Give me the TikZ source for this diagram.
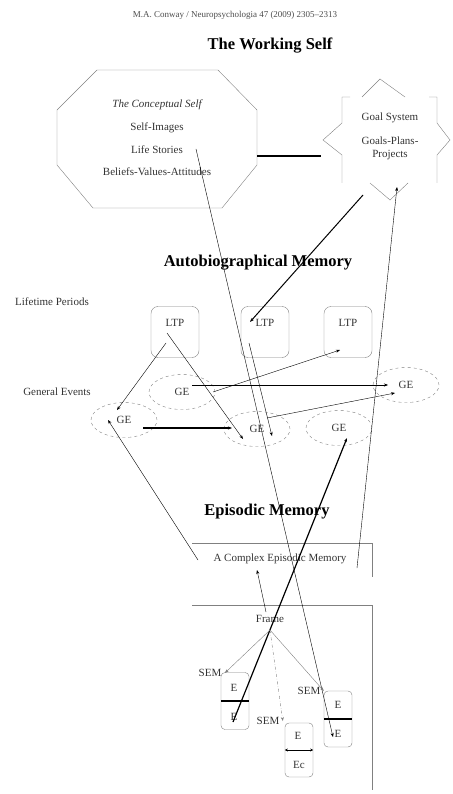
\documentclass[tikz,border=0pt]{standalone}
\usepackage{fontspec}
\setmainfont{Liberation Serif}
\usetikzlibrary{shapes.geometric,arrows.meta}

\tikzset{
  small/.style={font=\fontsize{11}{13}\selectfont, text=black!80},
  heading/.style={font=\fontsize{16.5}{18}\selectfont\bfseries},
  ltpbox/.style={draw=gray, rounded corners=7pt, minimum width=48pt, minimum height=51pt},
  gebox/.style={draw=gray, dashed, ellipse, minimum width=66pt, minimum height=35pt, inner sep=0pt},
  ebox/.style={draw=gray, rounded corners=4pt, minimum width=28pt, inner sep=0pt},
  link/.style={-{Stealth[length=4pt,width=3pt]}},
  framelink/.style={gray, -{Stealth[length=4pt,width=3pt]}},
}

\begin{document}
\begin{tikzpicture}[x=1pt,y=-1pt]
\useasboundingbox (0,0) rectangle (452,794);

\node[font=\fontsize{9}{10}\selectfont, text=black!70] (cite) at (235,15) {M.A. Conway / Neuropsychologia 47 (2009) 2305--2313};
\node[heading] (wself) at (270,46) {The Working Self};

% conceptual self
\draw[gray] (97,70) -- (218,70) -- (257,110) -- (257,165) -- (222,208) -- (93,208) -- (57,165) -- (57,110) -- cycle;
\node[small, font=\fontsize{11}{13}\selectfont\itshape] (cself) at (157,105) {The Conceptual Self};
\node[small] (simg) at (157,128) {Self-Images};
\node[small] (lstor) at (157,150) {Life Stories};
\node[small] (bva) at (157,172) {Beliefs-Values-Attitudes};

% goal system
\draw[gray] (350,97) -- (342,97) -- (342,123) -- (323,140) -- (342,155) -- (342,183);
\draw[gray] (429,97) -- (437,97) -- (437,123) -- (450,140) -- (437,155) -- (437,183);
\draw[gray] (362,97) -- (380,79) -- (405,97);
\draw[gray] (370,183) -- (390,200) -- (408,183);
\node[small] (gsys) at (390,118) {Goal System};
\node[small, align=center] (gpp) at (390,148) {Goals-Plans-\\Projects};

\coordinate (octR) at (257,156);
\coordinate (goalL) at (321,156);
\draw[line width=1.6pt] (octR) -- (goalL);

\node[heading] (abm) at (258,263) {Autobiographical Memory};

\node[small] (lper) at (52,302) {Lifetime Periods};
\node[ltpbox] (ltpA) at (175,332) {};
\node[ltpbox] (ltpB) at (265,332) {};
\node[ltpbox] (ltpC) at (348,332) {};
\node[small] (ltpAt) at (175,323) {LTP};
\node[small] (ltpBt) at (265,323) {LTP};
\node[small] (ltpCt) at (348,323) {LTP};

\node[small] (gev) at (57,392) {General Events};
\node[gebox, small] (geA) at (182,392) {GE};
\node[gebox, small] (geB) at (124,420) {GE};
\node[gebox, small] (geC) at (257,429) {GE};
\node[gebox, small] (geD) at (339,428) {GE};
\node[gebox, small] (geE) at (406,385) {GE};

\node[heading] (epm) at (267,512) {Episodic Memory};

\draw[gray] (192,543) -| (372,577);
\node[small] (cem) at (280,559) {A Complex Episodic Memory};
\draw[gray] (192,605) -| (372,790);

\node[small] (frame) at (270,619) {Frame};
\node[small] (semA) at (210,673) {SEM};
\node[small] (semB) at (268,721) {SEM};
\node[small] (semC) at (309,691) {SEM};

\node[ebox, minimum height=57pt] (eA) at (235,701) {};
\node[ebox, minimum height=54pt] (eB) at (299,750) {};
\node[ebox, minimum height=56pt] (eC) at (338,719) {};
\draw[line width=1.5pt] (eA.west) -- (eA.east);
\draw[{Stealth[length=3pt,width=3pt]}-{Stealth[length=3pt,width=3pt]}] (eB.west) -- (eB.east);
\draw[line width=1.5pt] (eC.west) -- (eC.east);
\node[small] (eA1) at (234,688) {E};
\node[small] (eA2) at (234,717) {E};
\node[small] (eB1) at (298,736) {E};
\node[small] (eB2) at (299,765) {Ec};
\node[small] (eC1) at (338,705) {E};
\node[small] (eC2) at (338,734) {E};

% end points of the links
\coordinate (lsA) at (196,149);
\coordinate (eCin) at (333,737);
\coordinate (goalB) at (363,195);
\coordinate (ltpBin) at (250,322);
\coordinate (goalT) at (397,187);
\coordinate (cemR) at (357,568);
\coordinate (ltpAa) at (167,333);
\coordinate (geCa) at (243,439);
\coordinate (ltpAb) at (166,343);
\coordinate (geBa) at (117,410);
\coordinate (ltpBb) at (249,343);
\coordinate (geCb) at (272,436);
\coordinate (geAa) at (213,392);
\coordinate (ltpCa) at (340,350);
\coordinate (geAb) at (192,385);
\coordinate (geEa) at (388,385);
\coordinate (geCc) at (267,418);
\coordinate (geEb) at (395,393);
\coordinate (geBb) at (143,428);
\coordinate (geCd) at (232,428);
\coordinate (geBc) at (108,420);
\coordinate (cemL) at (198,560);
\coordinate (eAin) at (233,722);
\coordinate (geDa) at (347,438);
\coordinate (frB) at (266,612);
\coordinate (cemM) at (257,570);
\coordinate (frC) at (270,630);

\draw[link] (lsA) -- (eCin);
\draw[link, line width=1pt] (goalB) -- (ltpBin);
\draw[link] (cemR) -- (goalT);
\draw[link] (ltpAa) -- (geCa);
\draw[link] (ltpAb) -- (geBa);
\draw[link] (ltpBb) -- (geCb);
\draw[link] (geAa) -- (ltpCa);
\draw[link, thin] (geAb) -- (geEa);
\draw[link] (geCc) -- (geEb);
\draw[link, line width=1.2pt] (geBb) -- (geCd);
\draw[link] (cemL) -- (geBc);
\draw[link, line width=1.2pt] (eAin) -- (geDa);
\draw[link] (frB) -- (cemM);

\draw[framelink] (frC) -- (semA.east);
\draw[framelink, dash dot] (frC) -- (semB.east);
\draw[framelink] (frC) -- (semC.east);

\end{tikzpicture}
\end{document}
